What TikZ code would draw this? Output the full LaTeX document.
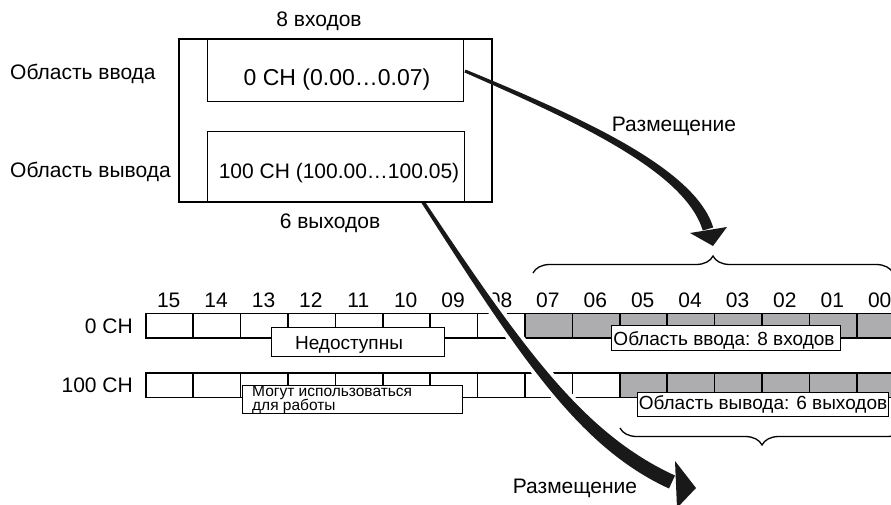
\documentclass[tikz,border=0pt]{standalone}
\usepackage{fontspec}
\setmainfont{Liberation Sans}
\usetikzlibrary{decorations.pathreplacing}
\definecolor{cellgray}{RGB}{173,173,176}
\begin{document}
\begin{tikzpicture}[x=1pt,y=-1pt,
  txt/.style={inner sep=0pt, anchor=base, font=\fontsize{21}{23}\selectfont},
  bigtxt/.style={inner sep=0pt, anchor=base, font=\fontsize{23}{25}\selectfont},
  tagtxt/.style={inner sep=0pt, anchor=base, font=\fontsize{19}{21}\selectfont},
  smalltxt/.style={inner sep=0pt, anchor=base west, font=\fontsize{15.5}{13}\selectfont},
  cellbox/.style={draw=black, line width=1.6pt, minimum width=47.4pt, minimum height=24.5pt, inner sep=0pt, anchor=north west},
  tagbox/.style={draw=black, fill=white, line width=1.3pt, inner sep=0pt, anchor=north west},
  boxline/.style={draw=black, line width=1.3pt},
  bracestyle/.style={draw=black, line width=1.3pt, decorate, decoration={brace, amplitude=17pt}},
  arrowfill/.style={fill=black!90},
  halo/.style={draw=white, fill=white, line width=8pt, line join=round}
]
\useasboundingbox (0,0) rectangle (891,505);
\clip (0,0) rectangle (891,505);

% ---- table rows ----
\foreach \i in {0,...,7} {
  \node[cellbox] (ra\i) at (145+47.4*\i, 312.5) {};
}
\foreach \i in {8,...,15} {
  \node[cellbox, fill=cellgray] (ra\i) at (145+47.4*\i, 312.5) {};
}
\foreach \i in {0,...,9} {
  \node[cellbox] (rb\i) at (145+47.4*\i, 372) {};
}
\foreach \i in {10,...,15} {
  \node[cellbox, fill=cellgray] (rb\i) at (145+47.4*\i, 372) {};
}
\foreach \b [count=\i from 0] in {15,14,13,12,11,10,09,08,07,06,05,04,03,02,01,00} {
  \node[txt] (bit\i) at (145+47.4*\i+23.7, 307) {\b};
}
\node[txt, anchor=base east] (ch0) at (133, 333) {0 CH};
\node[txt, anchor=base east] (ch100) at (133, 392) {100 CH};

% ---- tag boxes ----
\node[tagbox, minimum width=173pt, minimum height=29pt] (na) at (271,327) {};
\node[tagtxt] (natxt) at (349,349) {Недоступны};
\node[tagbox, minimum width=220pt, minimum height=28pt] (use) at (242,385) {};
\node[smalltxt] (usetxt1) at (252,396.5) {Могут использоваться};
\node[smalltxt] (usetxt2) at (252,410.5) {для работы};
\node[tagbox, minimum width=229pt, minimum height=25pt] (inarea) at (611,325) {};
\node[tagtxt] (inareatxt) at (724,345) {Область ввода: 8 входов};
\node[tagbox, minimum width=251pt, minimum height=24pt] (outarea) at (637,392) {};
\node[tagtxt] (outareatxt) at (763,409) {Область вывода: 6 выходов};

% ---- braces ----
\coordinate (brAl) at (533,273);
\coordinate (brAr) at (893,273);
\draw[bracestyle] (brAl) -- (brAr);
\coordinate (brBl) at (620,428);
\coordinate (brBr) at (904,428);
\draw[bracestyle] (brBr) -- (brBl);

% ---- arrow 2 (with white halo) ----
\coordinate (a2s) at (423,202);
\coordinate (a2e) at (696,488);
\path[halo] (424.5,201) .. controls (523,348) and (583,433.5) .. (675,475.5)
   -- (669,488.5) .. controls (577,446.5) and (517,352) .. (421.5,203) -- cycle;
\path[halo] (675,461) -- (a2e) -- (677,508) -- cycle;
\fill[arrowfill] (424.5,201) .. controls (523,348) and (583,433.5) .. (675,475.5)
   -- (669,488.5) .. controls (577,446.5) and (517,352) .. (421.5,203) -- cycle;
\fill[arrowfill] (675,461) -- (a2e) -- (677,508) -- cycle;
\node[txt] (place2) at (575,493) {Размещение};

% ---- top block ----
\fill[white] (179,39) rectangle (492,202);
\draw[boxline] (179,39) rectangle (492,202);
\node[boxline, minimum width=256pt, minimum height=62pt, inner sep=0pt, anchor=north west] (inA) at (207,39) {};
\node[boxline, minimum width=257pt, minimum height=71pt, inner sep=0pt, anchor=north west] (inB) at (207,131) {};
\node[bigtxt] (inAtxt) at (337,86) {0 CH (0.00…0.07)};
\node[txt] (inBtxt) at (339,179) {100 CH (100.00…100.05)};
\node[txt] (n8) at (319,27) {8 входов};
\node[txt] (n6) at (330,229) {6 выходов};
\node[txt, anchor=base west] (lin) at (10,80) {Область ввода};
\node[txt, anchor=base west] (lout) at (10,178) {Область вывода};

% ---- arrow 1 ----
\coordinate (a1s) at (465,71);
\coordinate (a1e) at (713,246);
\fill[arrowfill] (465.6,69.6) .. controls (581.2,117.2) and (695.3,168.4) .. (713.2,227.5)
   -- (702.8,230.5) .. controls (684.7,171.6) and (578.8,122.8) .. (464.4,72.4) -- cycle;
\fill[arrowfill] (690,233) -- (a1e) -- (727,227) -- cycle;
\node[txt] (place1) at (674,132) {Размещение};
\end{tikzpicture}
\end{document}
